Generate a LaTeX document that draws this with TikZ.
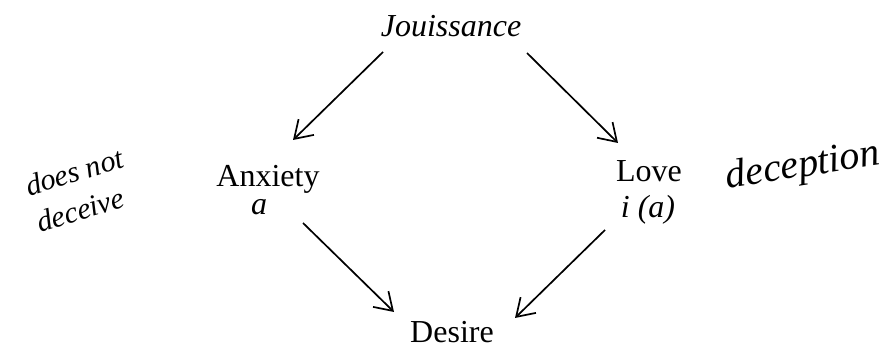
\documentclass[tikz,border=0pt]{standalone}
\usepackage{fontspec}
\setmainfont{Liberation Serif}
\usetikzlibrary{arrows.meta}
\tikzset{
  lbl/.style={inner sep=0pt, anchor=base, font=\fontsize{32}{36}\selectfont},
  ilbl/.style={lbl, font=\fontsize{32}{36}\selectfont\itshape},
  hand/.style={inner sep=0pt, font=\fontsize{#1}{#1}\selectfont\itshape},
  arr/.style={line width=1.7pt, -{Straight Barb[length=17pt,width=22pt,line width=1.7pt]}}
}
\begin{document}
\begin{tikzpicture}[x=1pt,y=1pt]
\useasboundingbox (0,0) rectangle (890,350);
\node[ilbl] (J) at (451,313) {Jouissance};
\node[lbl] (Anx) at (268,163) {Anxiety};
\node[ilbl] (a) at (259,135) {a};
\node[lbl] (Love) at (649,168) {Love};
\node[ilbl] (ia) at (648,132) {i (a)};
\node[lbl] (D) at (452,7) {Desire};
\node[hand=30, rotate=17, align=left, font=\fontsize{30}{38}\selectfont\itshape] (dn) at (80,160) {does not\\deceive};
\node[hand=40, rotate=9] (dp) at (803,183) {deception};
\coordinate (j1) at (383,298); \coordinate (j2) at (293,210);
\coordinate (j3) at (527,297); \coordinate (j4) at (618,207);
\coordinate (a1) at (303,127); \coordinate (a2) at (394,38);
\coordinate (l1) at (605,120); \coordinate (l2) at (515,32);
\draw[arr] (j1) -- (j2);
\draw[arr] (j3) -- (j4);
\draw[arr] (a1) -- (a2);
\draw[arr] (l1) -- (l2);
\end{tikzpicture}
\end{document}
